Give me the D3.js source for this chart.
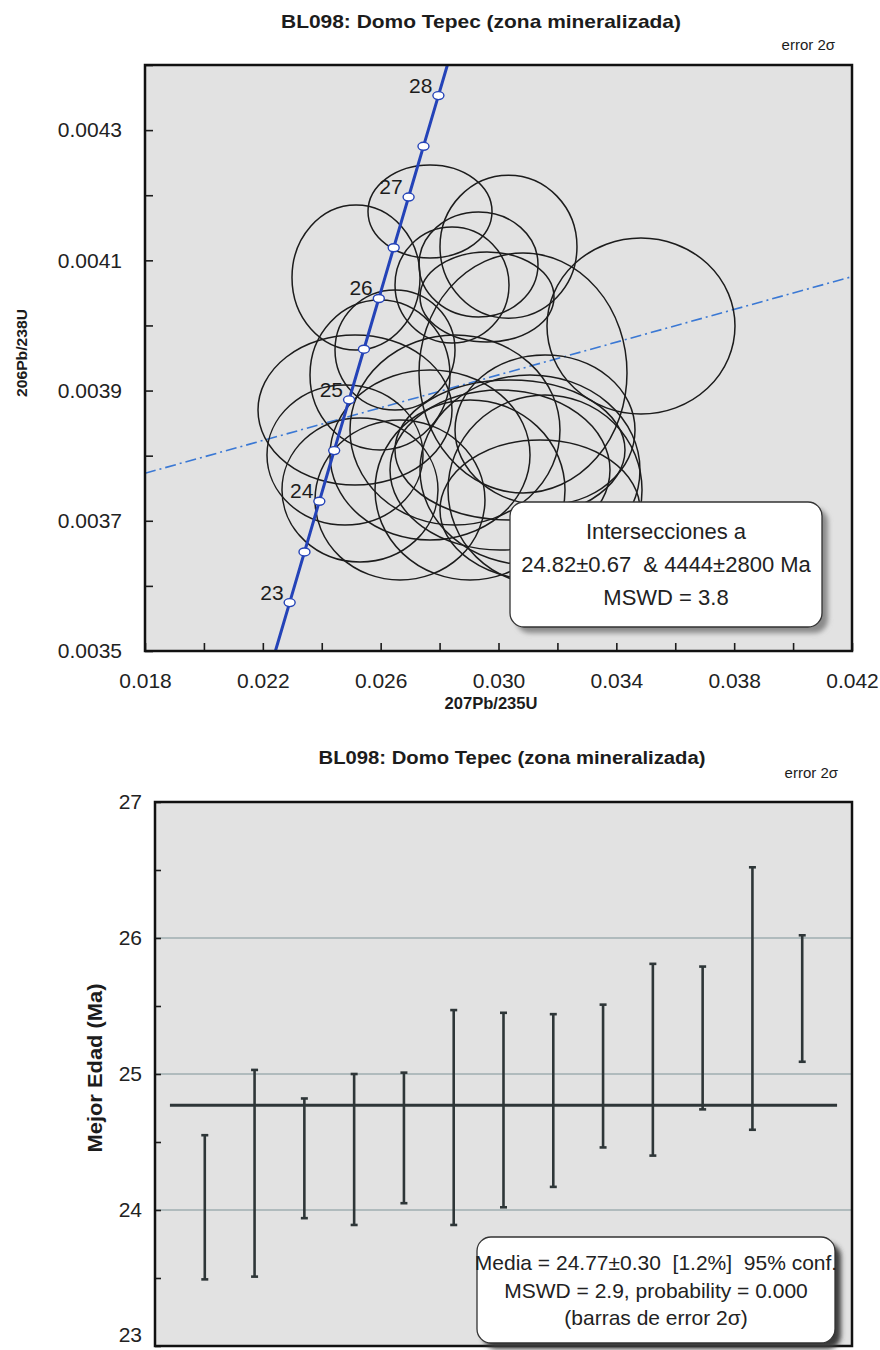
<!DOCTYPE html>
<html>
<head>
<meta charset="utf-8">
<script src="https://cdn.jsdelivr.net/npm/d3@7"></script>
<style>
  html, body { margin: 0; padding: 0; background: #fff; }
  svg { display: block; }
  text { font-family: "Liberation Sans", Arial, sans-serif; }
</style>
</head>
<body>
<svg id="fig" width="880" height="1350"></svg>
<script>
// ---- Concordia diagram data (BL098) ----
const title = "BL098: Domo Tepec (zona mineralizada)";
const errLabel = "error 2\u03c3";

// analysis ellipses: centre ratios and 2-sigma half-widths
const r207_235 = [0.027675, 0.030339, 0.025163, 0.029321, 0.028422, 0.029610, 0.030832, 0.034837,
                  0.031579, 0.025129, 0.024789, 0.025298, 0.026656, 0.025977, 0.026487, 0.027675,
                  0.030390, 0.030051, 0.031069, 0.029033, 0.031579, 0.028523, 0.031409];
const r206_238 = [0.004175, 0.004121, 0.0040736, 0.0040936, 0.0040621, 0.0040437, 0.003927, 0.0039991,
                  0.0037473, 0.0038701, 0.0038010, 0.0037473, 0.0037319, 0.0039239, 0.0039623, 0.0038010,
                  0.0038087, 0.0037780, 0.0037780, 0.0037473, 0.0038394, 0.0038394, 0.0037166];
const e207_235 = [0.002105, 0.002325, 0.002173, 0.002020, 0.001935, 0.002274, 0.003530, 0.003191,
                  0.003293, 0.003293, 0.002648, 0.002648, 0.002885, 0.002376, 0.002037, 0.003395,
                  0.003904, 0.003734, 0.003734, 0.003225, 0.003055, 0.003564, 0.003395];
const e206_238 = [0.0000714, 0.0001098, 0.0001113, 0.0000806, 0.0000891, 0.0000691, 0.0001843, 0.0001352,
                  0.0001459, 0.0001152, 0.0001075, 0.0001106, 0.0001229, 0.0001152, 0.0000922, 0.0001305,
                  0.0001075, 0.0001229, 0.0001459, 0.0001382, 0.0001152, 0.0001459, 0.0001075];

// concordia curve vertices (edge, 23 ... 28 Ma every 0.5 Ma, edge)
const concAge = [null, 23, 23.5, 24, 24.5, 25, 25.5, 26, 26.5, 27, 27.5, 28, null];
const conc207 = [0.022427, 0.022910, 0.023414, 0.023918, 0.024422, 0.024927, 0.025432,
                 0.025937, 0.026442, 0.026948, 0.027453, 0.027960, 0.028265];
const conc206 = [0.0035, 0.0035743, 0.0036521, 0.0037299, 0.0038078, 0.0038857, 0.0039635,
                 0.0040414, 0.0041193, 0.0041972, 0.0042751, 0.0043530, 0.0044];

// discordia through the two intercepts
const disc207 = [0.018, 0.042];
const disc206 = [0.003773, 0.004075];

const topLegend = ["Intersecciones a", "24.82\u00b10.67  & 4444\u00b12800 Ma", "MSWD = 3.8"];

// ---- Weighted mean data ----
const bestAge = [24.02, 24.27, 24.38, 24.445, 24.53, 24.68, 24.735, 24.805, 24.985, 25.105, 25.265, 25.555, 25.555];
const ageErr2s = [0.53, 0.76, 0.44, 0.555, 0.48, 0.79, 0.715, 0.635, 0.525, 0.705, 0.525, 0.965, 0.465];
const meanAge = 24.77;
const ageTicks = [23, 24, 25, 26, 27];
const bottomLegend = ["Media = 24.77\u00b10.30  [1.2%]  95% conf.",
                      "MSWD = 2.9, probability = 0.000",
                      "(barras de error 2\u03c3)"];

const svg = d3.select("#fig");
const defs = svg.append("defs");
defs.append("filter").attr("id", "soft").attr("x", "-10%").attr("y", "-10%").attr("width", "130%").attr("height", "130%")
  .append("feGaussianBlur").attr("stdDeviation", 2.5);

const ink = "#1c1c1c";

// ================= Concordia plot =================
const P = { left: 145, right: 852, top: 65, bottom: 651 };
const x = d3.scaleLinear().domain([0.018, 0.042]).range([P.left, P.right]);
const y = d3.scaleLinear().domain([0.0035, 0.0044]).range([P.bottom, P.top]);

svg.append("text").attr("x", 481).attr("y", 28).attr("text-anchor", "middle")
  .attr("font-size", 19).attr("font-weight", "bold").attr("fill", ink)
  .attr("textLength", 400).attr("lengthAdjust", "spacingAndGlyphs").text(title);
svg.append("text").attr("x", 835).attr("y", 50).attr("text-anchor", "end")
  .attr("font-size", 15).attr("fill", ink).text(errLabel);

svg.append("rect").attr("x", P.left).attr("y", P.top)
  .attr("width", P.right - P.left).attr("height", P.bottom - P.top).attr("fill", "#e2e2e2");

defs.append("clipPath").attr("id", "clipTop").append("rect")
  .attr("x", P.left).attr("y", P.top).attr("width", P.right - P.left).attr("height", P.bottom - P.top);
const plotTop = svg.append("g").attr("clip-path", "url(#clipTop)");

// discordia
plotTop.append("line")
  .attr("x1", x(disc207[0])).attr("y1", y(disc206[0]))
  .attr("x2", x(disc207[1])).attr("y2", y(disc206[1]))
  .attr("stroke", "#3a78d4").attr("stroke-width", 1.6).attr("stroke-dasharray", "11,4,2,4");

// error ellipses
plotTop.append("g").selectAll("ellipse").data(d3.range(r207_235.length)).join("ellipse")
  .attr("cx", i => x(r207_235[i])).attr("cy", i => y(r206_238[i]))
  .attr("rx", i => x(r207_235[i] + e207_235[i]) - x(r207_235[i]))
  .attr("ry", i => y(r206_238[i]) - y(r206_238[i] + e206_238[i]))
  .attr("fill", "none").attr("stroke", ink).attr("stroke-width", 1.5);

// concordia curve
const concPts = conc207.map((v, i) => [x(v), y(conc206[i])]);
plotTop.append("path").attr("d", d3.line().curve(d3.curveMonotoneY)(concPts))
  .attr("fill", "none").attr("stroke", "#2443b8").attr("stroke-width", 3);

const markers = d3.range(conc207.length).filter(i => concAge[i] !== null);
plotTop.append("g").selectAll("ellipse").data(markers).join("ellipse")
  .attr("cx", i => x(conc207[i])).attr("cy", i => y(conc206[i]))
  .attr("rx", 5.5).attr("ry", 4)
  .attr("fill", "#fff").attr("stroke", "#2443b8").attr("stroke-width", 1.4);
plotTop.append("g").selectAll("text").data(markers.filter(i => Number.isInteger(concAge[i]))).join("text")
  .attr("x", i => x(conc207[i]) - 6).attr("y", i => y(conc206[i]) - 3)
  .attr("text-anchor", "end").attr("font-size", 21).attr("fill", ink)
  .text(i => concAge[i]);

// axes with inward ticks
const yAxis = d3.axisLeft(y).tickValues(d3.range(35, 45).map(v => v / 10000))
  .tickSize(-8).tickPadding(23)
  .tickFormat(d => (Math.round(d * 10000) % 2 === 1) ? d3.format(".4f")(d) : "");
const gy = svg.append("g").attr("transform", `translate(${P.left},0)`).call(yAxis);
const xAxis = d3.axisBottom(x).tickValues(d3.range(18, 43, 2).map(v => v / 1000))
  .tickSize(-8).tickPadding(22)
  .tickFormat(d => (Math.round(d * 1000) % 4 === 2) ? d3.format(".3f")(d) : "");
const gx = svg.append("g").attr("transform", `translate(0,${P.bottom})`).call(xAxis);
[gx, gy].forEach(g => {
  g.select(".domain").remove();
  g.selectAll(".tick line").attr("stroke", ink).attr("stroke-width", 1.6);
  g.selectAll(".tick text").attr("font-size", 21).attr("fill", "#222")
    .attr("font-family", "'Liberation Sans', Arial, sans-serif");
});

svg.append("rect").attr("x", P.left).attr("y", P.top)
  .attr("width", P.right - P.left).attr("height", P.bottom - P.top)
  .attr("fill", "none").attr("stroke", "#111").attr("stroke-width", 2.5);

svg.append("text").attr("x", 491).attr("y", 709).attr("text-anchor", "middle")
  .attr("font-size", 17).attr("font-weight", "bold").attr("fill", ink)
  .attr("textLength", 93).attr("lengthAdjust", "spacingAndGlyphs").text("207Pb/235U");
svg.append("text").attr("transform", "translate(27,353) rotate(-90)").attr("text-anchor", "middle")
  .attr("font-size", 15).attr("font-weight", "bold").attr("fill", ink)
  .attr("textLength", 88).attr("lengthAdjust", "spacingAndGlyphs").text("206Pb/238U");

// rounded legend box with shadow
function legendBox(bx, by, bw, bh, lines, fs, lineGap, shadowFill) {
  svg.append("rect").attr("x", bx + 6).attr("y", by + 6).attr("width", bw).attr("height", bh)
    .attr("rx", 14).attr("fill", shadowFill).attr("filter", "url(#soft)");
  svg.append("rect").attr("x", bx).attr("y", by).attr("width", bw).attr("height", bh)
    .attr("rx", 14).attr("fill", "#fff").attr("stroke", "#333").attr("stroke-width", 1.3);
  const n = lines.length;
  lines.forEach((t, k) => {
    svg.append("text").attr("x", bx + bw / 2)
      .attr("y", by + bh / 2 + (k - (n - 1) / 2) * lineGap + fs * 0.36)
      .attr("text-anchor", "middle").attr("font-size", fs).attr("fill", "#222")
      .style("white-space", "pre").text(t);
  });
}
legendBox(510, 502, 312, 125, topLegend, 22, 33, "#8a8a8a");

// ================= Weighted mean plot =================
const Q = { left: 155, right: 852, top: 802, bottom: 1346 };
const xi = d3.scaleLinear().domain([0, bestAge.length + 1]).range([Q.left, Q.right]);
const ya = d3.scaleLinear().domain([23, 27]).range([Q.bottom, Q.top]);

svg.append("text").attr("x", 512).attr("y", 764).attr("text-anchor", "middle")
  .attr("font-size", 18).attr("font-weight", "bold").attr("fill", ink)
  .attr("textLength", 387).attr("lengthAdjust", "spacingAndGlyphs").text(title);
svg.append("text").attr("x", 838).attr("y", 778).attr("text-anchor", "end")
  .attr("font-size", 15).attr("fill", ink).text(errLabel);

svg.append("rect").attr("x", Q.left).attr("y", Q.top)
  .attr("width", Q.right - Q.left).attr("height", Q.bottom - Q.top).attr("fill", "#e2e2e2");

// grid lines at whole Ma
svg.append("g").selectAll("line").data([24, 25, 26]).join("line")
  .attr("x1", Q.left).attr("x2", Q.right).attr("y1", d => ya(d)).attr("y2", d => ya(d))
  .attr("stroke", "#7f9397").attr("stroke-width", 1.1);

// weighted mean
svg.append("line").attr("x1", xi(0.3)).attr("x2", xi(bestAge.length + 0.7))
  .attr("y1", ya(meanAge)).attr("y2", ya(meanAge))
  .attr("stroke", "#2e3638").attr("stroke-width", 3);

// error bars
const bars = svg.append("g").selectAll("g").data(d3.range(bestAge.length)).join("g");
bars.append("line").attr("x1", i => xi(i + 1)).attr("x2", i => xi(i + 1))
  .attr("y1", i => ya(bestAge[i] + ageErr2s[i])).attr("y2", i => ya(bestAge[i] - ageErr2s[i]))
  .attr("stroke", "#2e3638").attr("stroke-width", 2.6);
[1, -1].forEach(s => {
  bars.append("line").attr("x1", i => xi(i + 1) - 3.5).attr("x2", i => xi(i + 1) + 3.5)
    .attr("y1", i => ya(bestAge[i] + s * ageErr2s[i])).attr("y2", i => ya(bestAge[i] + s * ageErr2s[i]))
    .attr("stroke", "#2e3638").attr("stroke-width", 2.6);
});

const aAxis = d3.axisLeft(ya).tickValues(d3.range(23, 27.01, 0.5)).tickSize(-6).tickPadding(13)
  .tickFormat(d => ageTicks.includes(d) ? d : "");
const ga = svg.append("g").attr("transform", `translate(${Q.left},0)`).call(aAxis);
ga.select(".domain").remove();
ga.selectAll(".tick line").attr("stroke", ink).attr("stroke-width", 1.6);
ga.selectAll(".tick text").attr("font-size", 21).attr("fill", "#222")
  .attr("font-family", "'Liberation Sans', Arial, sans-serif")
  .attr("dy", d => d === 23 ? "-0.22em" : "0.32em");

svg.append("rect").attr("x", Q.left).attr("y", Q.top)
  .attr("width", Q.right - Q.left).attr("height", Q.bottom - Q.top)
  .attr("fill", "none").attr("stroke", "#111").attr("stroke-width", 2.5);

svg.append("text").attr("transform", "translate(102,1068) rotate(-90)").attr("text-anchor", "middle")
  .attr("font-size", 21).attr("font-weight", "bold").attr("fill", ink)
  .attr("textLength", 169).attr("lengthAdjust", "spacingAndGlyphs").text("Mejor Edad (Ma)");

legendBox(477, 1237, 358, 106, bottomLegend, 21, 27.5, "#3a3a3a");
</script>
</body>
</html>
